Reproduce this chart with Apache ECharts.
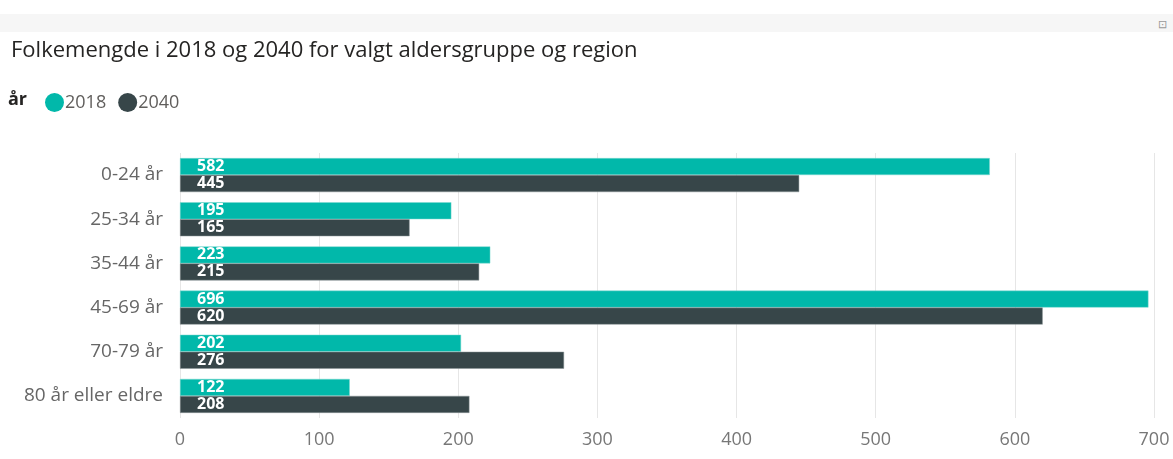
<!DOCTYPE html>
<html>
<head>
<meta charset="utf-8">
<script src="https://cdn.jsdelivr.net/npm/echarts@6/dist/echarts.min.js"></script>
<style>
  html, body { margin: 0; padding: 0; background: #fff; }
  #topbar { position: absolute; left: 0; top: 14px; width: 1173px; height: 18px; background: #f6f6f6; }
  #topbar span { position: absolute; right: 6px; top: 2px; font: 11px "Open Sans", sans-serif; color: #999; }
  #chart { position: absolute; left: 0; top: 0; width: 1173px; height: 459px; }
</style>
</head>
<body>
<div id="topbar"><span>⊡</span></div>
<div id="chart"></div>
<script>
// aldersgrupper og folkemengde
var categories = ["0-24 år", "25-34 år", "35-44 år", "45-69 år", "70-79 år", "80 år eller eldre"];
var values2018 = [582, 195, 223, 696, 202, 122];
var values2040 = [445, 165, 215, 620, 276, 208];
var xTicks = [0, 100, 200, 300, 400, 500, 600, 700];

var fontFam = "'Open Sans', 'Noto Sans', sans-serif";
var chart = echarts.init(document.getElementById("chart"));

var barLabel = {
  show: true,
  position: "insideLeft",
  distance: 17,
  color: "#fff",
  fontWeight: "bold",
  fontSize: 16,
  fontFamily: fontFam
};

var option = {
  animation: false,
  title: {
    text: "Folkemengde i 2018 og 2040 for valgt aldersgruppe og region",
    left: 6,
    top: 35,
    textStyle: { color: "#252423", fontSize: 22, fontWeight: "normal", fontFamily: fontFam }
  },
  legend: {
    left: 40,
    top: 88,
    icon: "circle",
    itemWidth: 19,
    itemHeight: 19,
    itemGap: 12,
    itemStyle: { borderWidth: 0 },
    textStyle: { color: "#605e5c", fontSize: 18, fontFamily: fontFam, padding: [0, 0, 0, -4] },
    data: ["2018", "2040"]
  },
  graphic: [{
    type: "text",
    left: 8,
    top: 91,
    style: { text: "år", fill: "#252423", font: "bold 18px " + fontFam }
  }],
  grid: { left: 180, right: 19, top: 153, bottom: 41 },
  xAxis: {
    type: "value",
    min: 0,
    max: 700,
    interval: 100,
    axisLine: { show: false },
    axisTick: { show: false },
    axisLabel: {
      color: "#777",
      fontSize: 18,
      fontFamily: fontFam,
      margin: 13,
      formatter: function (v) { return xTicks.indexOf(v) >= 0 ? String(v) : ""; }
    },
    splitLine: { show: true, lineStyle: { color: "#e6e6e6", width: 1 } }
  },
  yAxis: {
    type: "category",
    inverse: true,
    data: categories,
    axisLine: { show: false },
    axisTick: { show: false },
    axisLabel: { color: "#666", fontSize: 19, fontFamily: fontFam, margin: 17 }
  },
  series: [
    {
      name: "2018",
      type: "bar",
      data: values2018,
      barGap: "0%",
      barCategoryGap: "23%",
      itemStyle: { color: "#01B8AA", borderColor: "#7fd8d0", borderWidth: 0.5 },
      label: barLabel
    },
    {
      name: "2040",
      type: "bar",
      data: values2040,
      itemStyle: { color: "#374649", borderColor: "#8a9496", borderWidth: 0.5 },
      label: barLabel
    }
  ]
};

chart.setOption(option);
</script>
</body>
</html>
